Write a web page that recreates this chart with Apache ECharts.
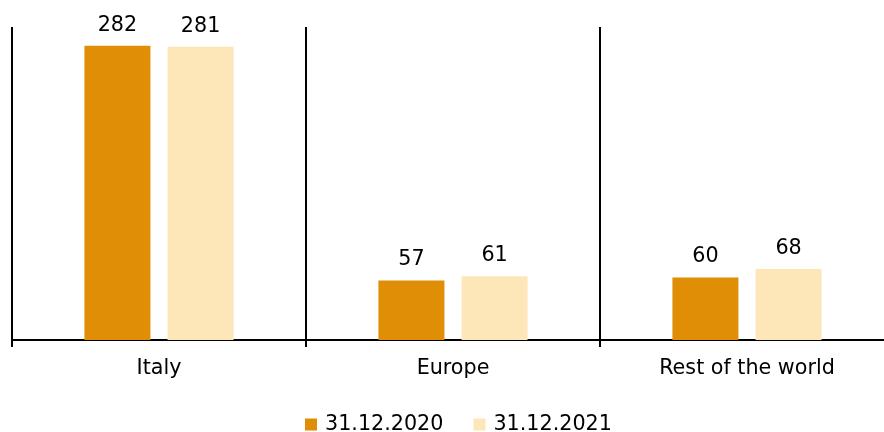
<!DOCTYPE html>
<html>
<head>
<meta charset="utf-8">
<script src="https://cdn.jsdelivr.net/npm/echarts@6/dist/echarts.min.js"></script>
<style>
  html, body { margin: 0; padding: 0; background: #fff; }
  #chart { width: 884px; height: 432px; }
</style>
</head>
<body>
<div id="chart"></div>
<script>
// Regions shown along the horizontal axis
const categories = ['Italy', 'Europe', 'Rest of the world'];
// Series names (year-end dates) and their values per region
const seriesNames = ['31.12.2020', '31.12.2021'];
const values2020 = [282, 57, 60];
const values2021 = [281, 61, 68];

const FONT = '"DejaVu Sans", Verdana, sans-serif';
const FONT_SIZE = 20.7;
const colors = ['#E08E05', '#FDE6B8'];

const chart = echarts.init(document.getElementById('chart'), null, { renderer: 'canvas' });

function barSeries(name, data, color) {
  return {
    name: name,
    type: 'bar',
    data: data,
    barWidth: 66,
    barGap: '26%',
    itemStyle: { color: color },
    label: {
      show: true,
      position: 'top',
      distance: 10,
      color: '#000',
      fontFamily: FONT,
      fontSize: FONT_SIZE
    }
  };
}

chart.setOption({
  animation: false,
  backgroundColor: '#fff',
  // the plot runs past the right edge so each region gets an equal 294px slot
  grid: {
    left: 12, top: 27, width: 882, height: 313,
    containLabel: false,
    outerBoundsMode: 'none'
  },
  legend: {
    top: 409,
    left: 300,
    itemWidth: 12,
    itemHeight: 12,
    itemGap: 30,
    icon: 'rect',
    textStyle: {
      fontFamily: FONT,
      fontSize: FONT_SIZE,
      color: '#000',
      padding: [0, 0, 0, 3]
    },
    data: seriesNames
  },
  xAxis: {
    type: 'category',
    data: categories,
    boundaryGap: true,
    axisLine: { show: true, lineStyle: { color: '#000', width: 2 } },
    axisTick: { show: true, length: 7, lineStyle: { color: '#000', width: 2 } },
    axisLabel: { color: '#000', fontFamily: FONT, fontSize: FONT_SIZE, margin: 18 },
    splitLine: { show: true, lineStyle: { color: '#000', width: 2 } }
  },
  yAxis: {
    type: 'value',
    min: 0,
    max: 300,
    show: false,
    splitLine: { show: false }
  },
  series: [
    barSeries(seriesNames[0], values2020, colors[0]),
    barSeries(seriesNames[1], values2021, colors[1])
  ]
});
</script>
</body>
</html>
